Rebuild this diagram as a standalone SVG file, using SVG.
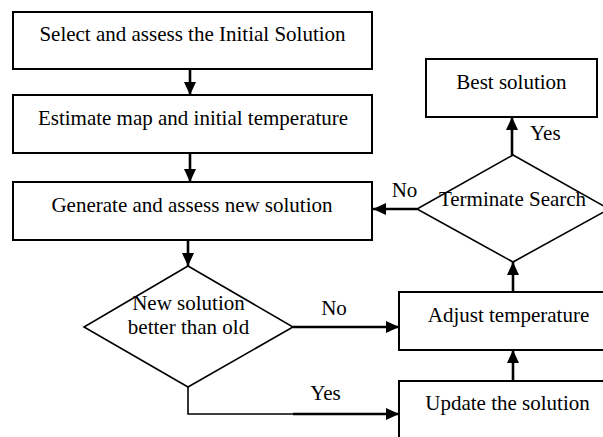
<svg xmlns="http://www.w3.org/2000/svg" width="603" height="437" viewBox="0 0 603 437">
<style>
.box{fill:#fff;stroke:#000;stroke-width:2}
.dia{fill:#fff;stroke:#000;stroke-width:1.6}
.t{font-family:"Liberation Serif","Times New Roman",serif;font-size:21px;fill:#000;text-anchor:middle}
.c{fill:none;stroke:#000;stroke-width:2.6}
.thin{fill:none;stroke:#000;stroke-width:1.6}
</style>
<defs>
<marker id="ah" markerWidth="14" markerHeight="12" refX="13" refY="6" orient="auto" markerUnits="userSpaceOnUse">
<path d="M0,0 L13,6 L0,12 z" fill="#000"/>
</marker>
</defs>
<rect width="603" height="437" fill="#fff"/>
<g id="connectors">
<line class="c" x1="190" y1="69" x2="190" y2="95" marker-end="url(#ah)"/>
<line class="c" x1="190" y1="153" x2="190" y2="182" marker-end="url(#ah)"/>
<line class="c" x1="188" y1="240" x2="188" y2="266" marker-end="url(#ah)"/>
<line class="c" x1="293" y1="327" x2="399" y2="327" marker-end="url(#ah)"/>
<polyline class="thin" points="188,387 188,414 295,414"/>
<line class="c" x1="293" y1="414" x2="399" y2="414" marker-end="url(#ah)"/>
<line class="c" x1="513" y1="381" x2="513" y2="350" marker-end="url(#ah)"/>
<line class="c" x1="513" y1="292" x2="513" y2="262" marker-end="url(#ah)"/>
<line class="c" x1="417" y1="209" x2="373" y2="209" marker-end="url(#ah)"/>
<line class="c" x1="512" y1="155" x2="512" y2="117" marker-end="url(#ah)"/>
<text class="t" x="404.5" y="197">No</text>
<text class="t" x="334" y="315">No</text>
<text class="t" x="325.5" y="400">Yes</text>
<text class="t" x="530" y="140" style="text-anchor:start">Yes</text>
</g>
<g id="n1"><rect class="box" x="13" y="12" width="359" height="57"/><text class="t" x="192.5" y="41">Select and assess the Initial Solution</text></g>
<g id="n2"><rect class="box" x="13" y="95" width="359" height="58"/><text class="t" x="193" y="125">Estimate map and initial temperature</text></g>
<g id="n3"><rect class="box" x="13" y="182" width="359" height="58"/><text class="t" x="192" y="212">Generate and assess new solution</text></g>
<g id="n4"><polygon class="dia" points="188,266 293,327 188,387 84,327"/><text class="t" x="188.5" y="310">New solution</text><text class="t" x="188.5" y="334">better than old</text></g>
<g id="n5"><rect class="box" x="399" y="292" width="212" height="58"/><text class="t" x="508.5" y="322">Adjust temperature</text></g>
<g id="n6"><rect class="box" x="399" y="381" width="212" height="70"/><text class="t" x="507.5" y="410">Update the solution</text></g>
<g id="n7"><polygon class="dia" points="513,155 609,209 513,262 417,209"/><text class="t" x="512.5" y="206">Terminate Search</text></g>
<g id="n8"><rect class="box" x="426" y="59" width="171" height="58"/><text class="t" x="511.5" y="89">Best solution</text></g>
</svg>
